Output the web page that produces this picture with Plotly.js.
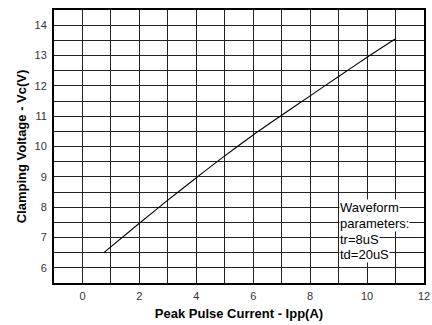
<!DOCTYPE html>
<html>
<head>
<meta charset="utf-8">
<script src="https://cdn.plot.ly/plotly-3.0.1.min.js"></script>
<style>html,body{margin:0;padding:0;background:#fff;}#chart{width:432px;height:325px;}</style>
</head>
<body>
<div id="chart"></div>
<script>
// Data
const currentA = [0.75, 2, 3, 4, 5, 6, 7, 8, 9, 10, 11];
const clampV   = [6.5, 7.47, 8.23, 8.97, 9.69, 10.38, 11.03, 11.67, 12.31, 12.94, 13.55];
const noteLines = ["Waveform", "parameters:", "tr=8uS", "td=20uS"];
const noteX = 9;
const noteY = [8.0, 7.47, 6.95, 6.43];

const font = "Liberation Sans, Arial, sans-serif";

const trace = {
  x: currentA, y: clampV, type: "scatter", mode: "lines",
  line: {color: "#000", width: 1.1, shape: "spline", smoothing: 0.8},
  hoverinfo: "skip", showlegend: false
};

const annotations = noteLines.map((t, i) => ({
  x: noteX, y: noteY[i], xref: "x", yref: "y", text: t, showarrow: false,
  xanchor: "left", yanchor: "middle", align: "left",
  bgcolor: "#fff", borderpad: 0,
  font: {family: font, size: 13, color: "#000"}
}));

const layout = {
  width: 432, height: 325,
  margin: {l: 54, r: 8, t: 10, b: 42},
  paper_bgcolor: "#fff", plot_bgcolor: "#fff",
  font: {family: font, size: 11, color: "#333"},
  showlegend: false,
  xaxis: {
    range: [-1, 12], tickmode: "linear", tick0: 0, dtick: 2,
    ticks: "", showgrid: true, gridcolor: "#222", gridwidth: 1,
    minor: {dtick: 1, tick0: 0, showgrid: true, gridcolor: "#222", gridwidth: 1},
    zeroline: false, showline: true, mirror: true, linecolor: "#000", linewidth: 2,
    tickfont: {family: font, size: 11, color: "#333"},
    ticklabelstandoff: 2,
    title: {text: "<b>Peak Pulse Current - Ipp(A)</b>", font: {family: font, size: 13, color: "#000"}, standoff: 8},
    fixedrange: true
  },
  yaxis: {
    range: [5.5, 14.5], tickmode: "linear", tick0: 6, dtick: 1,
    ticks: "", showgrid: true, gridcolor: "#222", gridwidth: 1,
    minor: {dtick: 0.5, tick0: 5.5, showgrid: true, gridcolor: "#222", gridwidth: 1},
    zeroline: false, showline: true, mirror: true, linecolor: "#000", linewidth: 2,
    tickfont: {family: font, size: 11, color: "#333"},
    ticklabelstandoff: 3,
    title: {text: "<b>Clamping Voltage - Vc(V)</b>", font: {family: font, size: 13, color: "#000"}, standoff: 5},
    fixedrange: true
  },
  annotations: annotations
};

Plotly.newPlot("chart", [trace], layout, {staticPlot: true, displayModeBar: false});
</script>
</body>
</html>
